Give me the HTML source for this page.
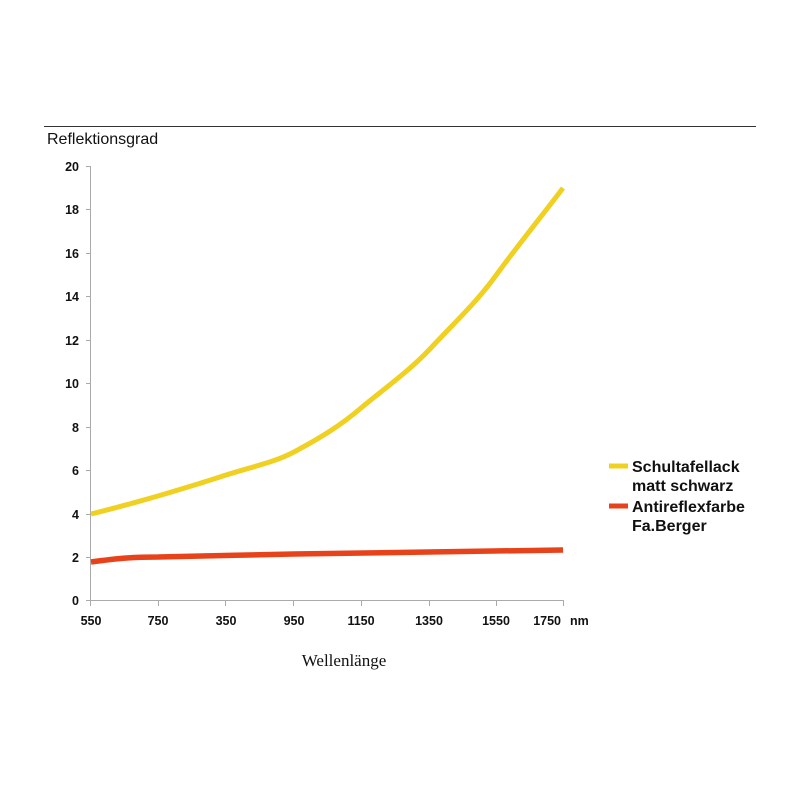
<!DOCTYPE html>
<html><head><meta charset="utf-8"><style>
body{margin:0;background:#fff;width:800px;height:800px;overflow:hidden}
</style></head><body>
<svg width="800" height="800" xmlns="http://www.w3.org/2000/svg" font-family="Liberation Sans, sans-serif">
<line x1="44" y1="126.5" x2="756" y2="126.5" stroke="#333" stroke-width="1"/>
<text x="47" y="144" font-size="16" fill="#111">Reflektionsgrad</text>
<g stroke="#aaa" stroke-width="1">
<line x1="90.5" y1="166" x2="90.5" y2="600"/>
<line x1="90" y1="600.5" x2="564" y2="600.5"/>
<line x1="86" y1="166.5" x2="91" y2="166.5"/>
<line x1="86" y1="209.5" x2="91" y2="209.5"/>
<line x1="86" y1="253.5" x2="91" y2="253.5"/>
<line x1="86" y1="296.5" x2="91" y2="296.5"/>
<line x1="86" y1="340.5" x2="91" y2="340.5"/>
<line x1="86" y1="383.5" x2="91" y2="383.5"/>
<line x1="86" y1="427.5" x2="91" y2="427.5"/>
<line x1="86" y1="470.5" x2="91" y2="470.5"/>
<line x1="86" y1="514.5" x2="91" y2="514.5"/>
<line x1="86" y1="557.5" x2="91" y2="557.5"/>
<line x1="86" y1="600.5" x2="91" y2="600.5"/>
<line x1="90.5" y1="600" x2="90.5" y2="606"/>
<line x1="158.5" y1="600" x2="158.5" y2="606"/>
<line x1="225.5" y1="600" x2="225.5" y2="606"/>
<line x1="293.5" y1="600" x2="293.5" y2="606"/>
<line x1="361.5" y1="600" x2="361.5" y2="606"/>
<line x1="429.5" y1="600" x2="429.5" y2="606"/>
<line x1="496.5" y1="600" x2="496.5" y2="606"/>
<line x1="563.5" y1="600" x2="563.5" y2="606"/>
</g>
<g font-size="12.5" font-weight="bold" fill="#111" text-anchor="end">
<text x="79" y="171">20</text><text x="79" y="214">18</text><text x="79" y="258">16</text>
<text x="79" y="301">14</text><text x="79" y="345">12</text><text x="79" y="388">10</text>
<text x="79" y="432">8</text><text x="79" y="475">6</text><text x="79" y="519">4</text>
<text x="79" y="562">2</text><text x="79" y="605">0</text>
</g>
<g font-size="12.5" font-weight="bold" fill="#111" text-anchor="middle">
<text x="91" y="625">550</text><text x="158" y="625">750</text><text x="226" y="625">350</text>
<text x="294" y="625">950</text><text x="361" y="625">1150</text><text x="429" y="625">1350</text>
<text x="496" y="625">1550</text>
</g>
<text x="561" y="625" font-size="12.5" font-weight="bold" fill="#111" text-anchor="end">1750</text>
<text x="570" y="625" font-size="12.5" font-weight="bold" fill="#111">nm</text>
<text x="344" y="666" font-size="17" font-family="Liberation Serif, serif" text-anchor="middle" fill="#111">Wellenlänge</text>
<path d="M91,514 C120,507 140,501 158,496 C185,488 205,482 226,475 C255,466 275,462 294,452 C320,438 340,426 361,408 C385,388 408,372 429,350 C455,322 477,302 497,274 C522,240 545,212 563,188" fill="none" stroke="#f0d020" stroke-width="5"/>
<path d="M91,562 C120,558 135,557 158,557 C200,556 250,555 294,554 C380,553 470,551 563,550" fill="none" stroke="#e8421a" stroke-width="5.5"/>
<line x1="609" y1="466" x2="628" y2="466" stroke="#f0d020" stroke-width="5"/>
<line x1="609" y1="506" x2="628" y2="506" stroke="#e8421a" stroke-width="5"/>
<g font-size="16" font-weight="bold" fill="#111">
<text x="632" y="472">Schultafellack</text><text x="632" y="491">matt schwarz</text>
<text x="632" y="512">Antireflexfarbe</text><text x="632" y="531">Fa.Berger</text>
</g>
</svg>
</body></html>
